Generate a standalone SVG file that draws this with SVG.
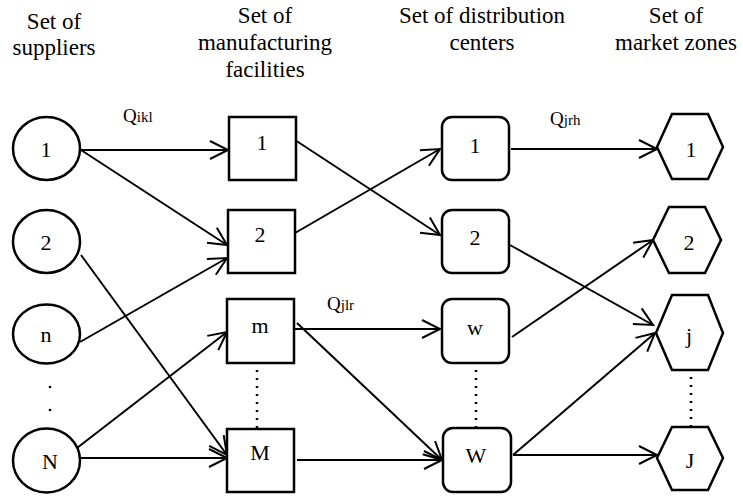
<svg xmlns="http://www.w3.org/2000/svg" width="743" height="497" viewBox="0 0 743 497">
<style>
text{font-family:"Liberation Serif","Times New Roman",serif;fill:#000}
.h{font-size:23px;text-anchor:middle}
.lb{font-size:22px;text-anchor:middle}
.q{font-size:19px}
.sub{font-size:15px}
.nd{fill:#fff;stroke:#000;stroke-width:2.5}
.e{fill:none;stroke:#000;stroke-width:2;marker-end:url(#arr)}
.dot{fill:none;stroke:#000;stroke-width:2.5;stroke-dasharray:2 6}
</style>
<defs>
<marker id="arr" markerUnits="userSpaceOnUse" markerWidth="24" markerHeight="24" viewBox="-20 -12 24 24" refX="0" refY="0" orient="auto">
<path d="M-18,-9 L0,0 L-18,9" fill="none" stroke="#000" stroke-width="2"/>
</marker>
</defs>
<rect width="743" height="497" fill="#fff"/>
<g id="headers">
<text class="h" x="54" y="29">Set of</text>
<text class="h" x="54" y="55">suppliers</text>
<text class="h" x="265" y="23">Set of</text>
<text class="h" x="265" y="50">manufacturing</text>
<text class="h" x="265" y="77">facilities</text>
<text class="h" x="482" y="23">Set of distribution</text>
<text class="h" x="482" y="50">centers</text>
<text class="h" x="676" y="23">Set of</text>
<text class="h" x="676" y="50">market zones</text>
</g>
<g id="connectors">
<line class="e" x1="81" y1="150" x2="228" y2="150"/>
<line class="e" x1="81" y1="150" x2="227" y2="245"/>
<line class="e" x1="80" y1="342" x2="227" y2="258"/>
<line class="e" x1="81" y1="255" x2="227" y2="455"/>
<line class="e" x1="77" y1="448" x2="227" y2="332"/>
<line class="e" x1="80" y1="458" x2="227" y2="458"/>
<line class="e" x1="295" y1="140" x2="440" y2="235"/>
<line class="e" x1="295" y1="233" x2="440" y2="149"/>
<line class="e" x1="294" y1="329" x2="440" y2="329"/>
<line class="e" x1="297" y1="323" x2="442" y2="460"/>
<line class="e" x1="297" y1="460" x2="442" y2="460"/>
<line class="e" x1="511" y1="149" x2="657" y2="149"/>
<line class="e" x1="510" y1="245" x2="653" y2="325"/>
<line class="e" x1="512" y1="337" x2="653" y2="240"/>
<line class="e" x1="513" y1="455" x2="655" y2="333"/>
<line class="e" x1="513" y1="455" x2="657" y2="455"/>
<line class="dot" x1="257" y1="370" x2="257" y2="436"/>
<line class="dot" x1="476" y1="370" x2="476" y2="436"/>
<line class="dot" x1="691" y1="369" x2="691" y2="434"/>
<circle cx="50" cy="387" r="1.3"/>
<circle cx="50" cy="410" r="1.3"/>
</g>
<g id="flow-labels">
<text class="q" x="123" y="122">Q<tspan class="sub">ikl</tspan></text>
<text class="q" x="327" y="310">Q<tspan class="sub">jlr</tspan></text>
<text class="q" x="550" y="125">Q<tspan class="sub">jrh</tspan></text>
</g>
<g id="s1"><ellipse class="nd" cx="46.5" cy="148.5" rx="33.5" ry="31.5"/><text class="lb" x="46" y="157">1</text></g>
<g id="s2"><ellipse class="nd" cx="46.5" cy="241.5" rx="33.5" ry="31.5"/><text class="lb" x="46" y="250">2</text></g>
<g id="sn"><ellipse class="nd" cx="46.5" cy="334" rx="33.5" ry="29.5"/><text class="lb" x="46" y="342">n</text></g>
<g id="sN"><ellipse class="nd" cx="46.5" cy="460.5" rx="33.5" ry="32"/><text class="lb" x="50" y="469">N</text></g>
<g id="m1"><rect class="nd" x="229" y="117" width="67" height="63"/><text class="lb" x="262" y="150">1</text></g>
<g id="m2"><rect class="nd" x="228" y="210" width="67" height="63"/><text class="lb" x="260" y="242">2</text></g>
<g id="mm"><rect class="nd" x="227" y="299" width="67" height="64"/><text class="lb" x="260" y="333">m</text></g>
<g id="mM"><rect class="nd" x="227" y="429" width="67" height="63"/><text class="lb" x="260" y="460">M</text></g>
<g id="d1"><rect class="nd" x="442" y="117" width="67" height="63" rx="10"/><text class="lb" x="475" y="153">1</text></g>
<g id="d2"><rect class="nd" x="442" y="210" width="67" height="63" rx="10"/><text class="lb" x="475" y="245">2</text></g>
<g id="dw"><rect class="nd" x="442" y="299" width="67" height="64" rx="10"/><text class="lb" x="475" y="335">w</text></g>
<g id="dW"><rect class="nd" x="443" y="428" width="68" height="64" rx="10"/><text class="lb" x="476" y="463">W</text></g>
<g id="z1"><polygon class="nd" points="657,147 672,114 708,114 723,147 708,179 672,179"/><text class="lb" x="691" y="157">1</text></g>
<g id="z2"><polygon class="nd" points="653,240 669,207 705,207 721,240 705,273 669,273"/><text class="lb" x="689" y="250">2</text></g>
<g id="zj"><polygon class="nd" points="656,333 672,295 708,295 723,333 708,370 672,370"/><text class="lb" x="689" y="343">j</text></g>
<g id="zJ"><polygon class="nd" points="657,458 672,427 708,427 723,458 708,490 672,490"/><text class="lb" x="690" y="468">J</text></g>
</svg>
